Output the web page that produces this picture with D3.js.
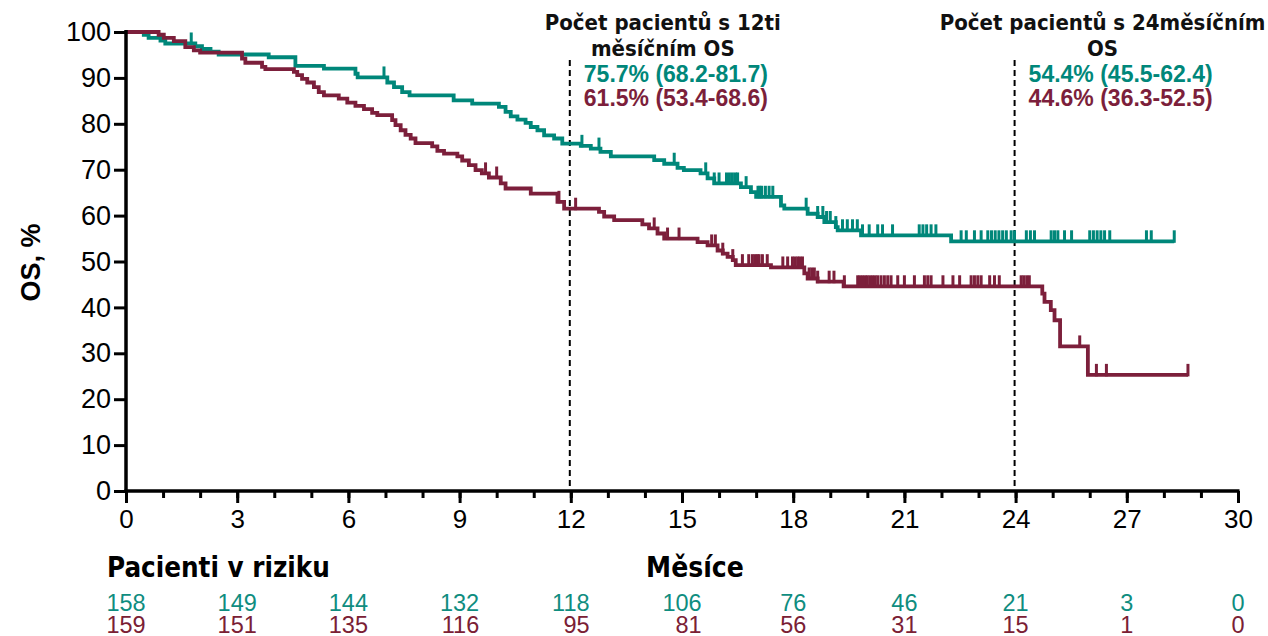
<!DOCTYPE html>
<html>
<head>
<meta charset="utf-8">
<script src="https://cdn.jsdelivr.net/npm/d3@7"></script>
<style>
  html, body { margin: 0; padding: 0; background: #fff; }
  svg { display: block; }
</style>
</head>
<body>
<svg id="chart" width="1268" height="636"></svg>
<script>
// Kaplan–Meier OS, two arms. Steps are [month, survival % after the event].
const tealSteps = [
  [0, 100], [0.48, 99.4], [0.61, 98.7], [0.93, 98.1], [1.06, 97.5], [1.87, 96.9],
  [2.05, 96.3], [2.28, 95.7], [2.50, 95.1], [3.85, 94.5], [4.57, 92.6], [5.34, 92.0],
  [6.19, 90.9], [6.25, 90.1], [7.05, 89.0], [7.23, 88.0], [7.45, 86.9], [7.65, 86.2],
  [8.84, 85.1], [9.34, 84.4], [10.06, 83.7], [10.24, 82.6], [10.38, 81.6], [10.56, 80.9],
  [10.78, 80.2], [10.92, 79.3], [11.10, 78.6], [11.28, 77.5], [11.55, 76.8], [11.77, 75.7],
  [12.27, 75.2], [12.54, 74.6], [12.80, 73.9], [13.08, 72.9], [14.25, 72.1], [14.52, 71.3],
  [14.88, 70.4], [15.05, 69.9], [15.50, 69.2], [15.69, 68.1], [15.87, 67.0], [16.59, 66.2],
  [16.86, 65.1], [17.00, 64.1], [17.67, 62.2], [17.76, 61.5], [18.39, 60.4], [18.66, 59.7],
  [18.84, 58.6], [19.15, 57.5], [19.20, 56.8], [19.83, 55.7], [22.26, 54.4], [28.28, 54.4]
];
const tealCensored = [
  1.76, 6.96, 12.30, 12.76, 14.79, 15.64, 15.87, 16.00, 16.20, 16.28, 16.36, 16.44, 16.50,
  16.73, 17.05, 17.10, 17.15, 17.25, 17.35, 17.45, 18.35, 18.66, 18.80, 18.90, 19.00, 19.15,
  19.33, 19.46, 19.60, 19.73, 19.87, 20.05, 20.28, 20.41, 20.68, 21.40, 21.50, 21.60, 21.72,
  21.85, 22.53, 22.67, 22.89, 23.07, 23.25, 23.35, 23.45, 23.55, 23.65, 23.75, 23.88, 23.97,
  24.29, 24.40, 24.51, 24.96, 25.05, 25.14, 25.32, 25.51, 26.00, 26.10, 26.20, 26.30, 26.40,
  26.54, 27.53, 27.66, 28.28
];

const maroonSteps = [
  [0, 100], [0.88, 99.4], [1.02, 98.7], [1.29, 98.0], [1.60, 96.7], [1.83, 96.0], [2.00, 95.5],
  [3.13, 94.2], [3.22, 93.3], [3.67, 92.4], [3.76, 91.9], [4.53, 91.3], [4.62, 90.6],
  [4.75, 89.8], [4.89, 89.0], [5.07, 88.0], [5.20, 86.9], [5.34, 86.2], [5.74, 85.5],
  [5.97, 84.6], [6.19, 83.9], [6.42, 83.2], [6.64, 82.4], [6.78, 81.9], [7.18, 80.8],
  [7.27, 79.7], [7.41, 78.6], [7.54, 77.6], [7.68, 76.8], [7.81, 75.8], [8.26, 75.1],
  [8.40, 74.1], [8.58, 73.5], [8.94, 72.9], [9.07, 72.0], [9.25, 71.0], [9.43, 69.9],
  [9.60, 69.2], [9.79, 68.3], [10.11, 67.0], [10.24, 65.9], [10.92, 64.8], [11.64, 63.0],
  [11.82, 61.5], [12.76, 60.8], [12.90, 59.8], [13.17, 59.0], [13.93, 58.1], [14.11, 57.2],
  [14.34, 56.1], [14.52, 55.0], [15.42, 54.2], [15.69, 53.5], [15.96, 52.4], [16.10, 51.7],
  [16.23, 51.0], [16.37, 50.3], [16.45, 49.2], [17.40, 48.7], [18.30, 47.4], [18.39, 46.3],
  [18.66, 45.6], [19.36, 44.6], [24.72, 43.0], [24.78, 41.2], [24.95, 39.4], [25.05, 37.2],
  [25.20, 31.5], [25.95, 25.3], [28.65, 25.3]
];
const maroonCensored = [
  9.70, 10.00, 11.68, 12.13, 14.25, 14.61, 14.92, 15.80, 15.90, 16.10, 16.37, 16.63, 16.80,
  16.90, 16.97, 17.03, 17.08, 17.17, 17.30, 17.72, 17.85, 17.98, 18.05, 18.12, 18.18, 18.25,
  18.43, 18.50, 18.57, 18.66, 18.97, 19.10, 19.38, 19.74, 19.80, 19.87, 19.94, 20.00, 20.07,
  20.14, 20.21, 20.28, 20.37, 20.46, 20.55, 20.64, 20.82, 21.00, 21.27, 21.54, 21.63, 21.72,
  22.04, 22.31, 22.49, 22.80, 22.89, 22.98, 23.07, 23.30, 23.43, 23.56, 24.15, 24.22, 24.30,
  24.37, 25.73, 26.18, 26.45, 28.65
];

// Axis ticks
const yTicks = [0, 10, 20, 30, 40, 50, 60, 70, 80, 90, 100];
const xMajorTicks = [0, 3, 6, 9, 12, 15, 18, 21, 24, 27, 30];
const xMinorTicks = d3.range(0, 31);

// Patients at risk at each major tick
const riskTeal = [158, 149, 144, 132, 118, 106, 76, 46, 21, 3, 0];
const riskMaroon = [159, 151, 135, 116, 95, 81, 56, 31, 15, 1, 0];

// Landmark annotations
const landmarkMonths = [12, 24];
const landmarkTitles = [
  ["Počet pacientů s 12ti", "měsíčním OS"],
  ["Počet pacientů s 24měsíčním", "OS"]
];
const landmarkTeal = ["75.7% (68.2-81.7)", "54.4% (45.5-62.4)"];
const landmarkMaroon = ["61.5% (53.4-68.6)", "44.6% (36.3-52.5)"];

const TEAL = "#00877a";
const MAROON = "#7c1f3b";

const svg = d3.select("#chart");
const x = d3.scaleLinear().domain([0, 30]).range([126, 1238]);
const y = d3.scaleLinear().domain([0, 100]).range([491, 32]);

const numFont = "'Liberation Sans', Arial, sans-serif";
const humFont = "'DejaVu Sans Condensed', 'DejaVu Sans', sans-serif";

// Landmark dashed lines
svg.selectAll("line.landmark")
  .data(landmarkMonths)
  .join("line")
  .attr("class", "landmark")
  .attr("x1", d => x(d) - 1).attr("x2", d => x(d) - 1)
  .attr("y1", 60).attr("y2", y(0))
  .attr("stroke", "#000").attr("stroke-width", 2)
  .attr("stroke-dasharray", "6,4");

// Survival curves
const line = d3.line().x(d => x(d[0])).y(d => y(d[1])).curve(d3.curveStepAfter);

function stepValue(steps, t) {
  let v = steps[0][1];
  for (const s of steps) { if (s[0] <= t) v = s[1]; else break; }
  return v;
}

function drawArm(steps, censored, color) {
  svg.append("path")
    .datum(steps)
    .attr("d", line)
    .attr("fill", "none")
    .attr("stroke", color)
    .attr("stroke-width", 3.8);
  svg.append("g").selectAll("line")
    .data(censored)
    .join("line")
    .attr("x1", d => x(d)).attr("x2", d => x(d))
    .attr("y1", d => y(stepValue(steps, d)) + 1.5)
    .attr("y2", d => y(stepValue(steps, d)) - 11)
    .attr("stroke", color)
    .attr("stroke-width", 3);
}
drawArm(tealSteps, tealCensored, TEAL);
drawArm(maroonSteps, maroonCensored, MAROON);

// Y axis
const yAxis = svg.append("g")
  .attr("transform", `translate(${x(0)},0)`)
  .call(d3.axisLeft(y).tickValues(yTicks).tickSize(12).tickSizeOuter(0).tickPadding(3));
yAxis.select(".domain").attr("stroke", "#000").attr("stroke-width", 3.5)
  .attr("d", `M0,${y(0) + 1.5}V${y(100) - 2}`);
yAxis.selectAll(".tick line").attr("stroke", "#000").attr("stroke-width", 3);
yAxis.selectAll(".tick text")
  .attr("font-family", numFont).attr("font-size", 27).attr("fill", "#000");

// X axis: minor ticks then major ticks with labels
const xMinor = svg.append("g")
  .attr("transform", `translate(0,${y(0)})`)
  .call(d3.axisBottom(x).tickValues(xMinorTicks).tickSize(7).tickSizeOuter(0).tickFormat(""));
xMinor.select(".domain").remove();
xMinor.selectAll(".tick line").attr("stroke", "#000").attr("stroke-width", 3);

const xAxis = svg.append("g")
  .attr("transform", `translate(0,${y(0)})`)
  .call(d3.axisBottom(x).tickValues(xMajorTicks).tickSize(12).tickSizeOuter(0).tickPadding(7));
xAxis.select(".domain").attr("stroke", "#000").attr("stroke-width", 3.5)
  .attr("d", `M${x(0) - 1.5},0H${x(30) + 1.5}`);
xAxis.selectAll(".tick line").attr("stroke", "#000").attr("stroke-width", 3);
xAxis.selectAll(".tick text")
  .attr("font-family", numFont).attr("font-size", 26).attr("fill", "#000");

// Y axis title
svg.append("text")
  .attr("transform", `translate(40,${y(50) + 1}) rotate(-90)`)
  .attr("text-anchor", "middle")
  .attr("font-family", numFont).attr("font-weight", "bold").attr("font-size", 27)
  .text("OS, %");

// Landmark annotation blocks
landmarkMonths.forEach((m, i) => {
  const cx = x(m) + (i === 0 ? 92 : 87);
  landmarkTitles[i].forEach((t, j) => {
    svg.append("text")
      .attr("x", cx).attr("y", 30 + j * 26)
      .attr("text-anchor", "middle")
      .attr("font-family", humFont).attr("font-weight", "bold").attr("font-size", 22)
      .attr("fill", "#111")
      .text(t);
  });
  [[landmarkTeal[i], TEAL], [landmarkMaroon[i], MAROON]].forEach(([t, c], j) => {
    svg.append("text")
      .attr("x", x(m) + 13).attr("y", 82 + j * 24)
      .attr("font-family", numFont).attr("font-weight", "bold").attr("font-size", 23)
      .attr("fill", c)
      .text(t);
  });
});

// Risk table headings
svg.append("text")
  .attr("x", 107).attr("y", 577)
  .attr("font-family", humFont).attr("font-weight", "bold").attr("font-size", 27.5)
  .text("Pacienti v riziku");
svg.append("text")
  .attr("x", x(15.35)).attr("y", 577)
  .attr("text-anchor", "middle")
  .attr("font-family", humFont).attr("font-weight", "bold").attr("font-size", 28)
  .text("Měsíce");

// Risk table numbers: upper row centred on ticks, lower row right-aligned beneath it
const riskTop = svg.append("g").selectAll("text")
  .data(riskTeal)
  .join("text")
  .attr("x", (d, i) => x(xMajorTicks[i])).attr("y", 611)
  .attr("text-anchor", "middle")
  .attr("font-family", numFont).attr("font-size", 23.5)
  .attr("fill", "#0f8d7f")
  .text(d => d);
const rightEdges = riskTop.nodes().map(n => { const b = n.getBBox(); return b.x + b.width; });
svg.append("g").selectAll("text")
  .data(riskMaroon)
  .join("text")
  .attr("x", (d, i) => rightEdges[i]).attr("y", 633)
  .attr("text-anchor", "end")
  .attr("font-family", numFont).attr("font-size", 23.5)
  .attr("fill", "#7a2034")
  .text(d => d);
</script>
</body>
</html>
